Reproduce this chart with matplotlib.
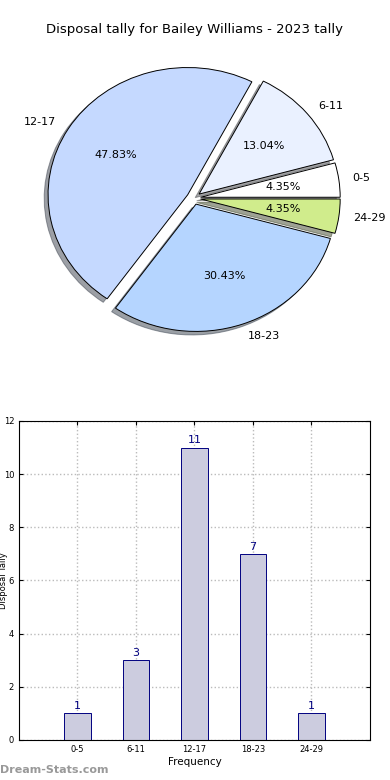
import numpy as np
import matplotlib
matplotlib.use('Agg')
import matplotlib.pyplot as plt

# Data
categories = ['0-5', '6-11', '12-17', '18-23', '24-29']
counts = [1, 3, 11, 7, 1]
pie_colors = ['#ffffff', '#eaf1ff', '#c5d9ff', '#b5d5ff', '#d0ec8c']

fig = plt.figure(figsize=(3.9, 7.8), dpi=100)

# Pie chart
ax1 = fig.add_axes([0.049, 0.542, 0.895, 0.408])
wedges, texts, autotexts = ax1.pie(counts, labels=categories, colors=pie_colors,
                                   explode=[0.05] * len(counts), autopct='%.2f%%',
                                   shadow=True, startangle=0,
                                   wedgeprops={'edgecolor': 'black', 'linewidth': 0.7},
                                   textprops={'fontsize': 8})
ax1.set_aspect('auto')
ax1.set_xlim(-1.25, 1.25)
ax1.set_ylim(-1.25, 1.25)
fig.text(0.5, 0.962, 'Disposal tally for Bailey Williams - 2023 tally',
         ha='center', va='center', fontsize=9.5)

# Bar chart
ax2 = fig.add_axes([0.0487, 0.0513, 0.9, 0.409])
x = np.arange(len(categories))
bars = ax2.bar(x, counts, width=0.45, color='#ccccdf', edgecolor='#000080', linewidth=0.7, zorder=2)
for xi, c in zip(x, counts):
    ax2.text(xi, c + 0.08, str(c), ha='center', va='bottom', color='#000080', fontsize=8)
ax2.set_xlim(-1, 5)
ax2.set_ylim(0, 12)
ax2.set_xticks(x)
ax2.set_xticklabels(categories)
ax2.set_yticks(range(0, 13, 2))
ax2.tick_params(labelsize=6, direction='in', length=3, top=True, right=True)
ax2.grid(True, linestyle=':', color='#bbbbbb', linewidth=1)
ax2.set_xlabel('Frequency', fontsize=7.5, labelpad=2)
fig.text(0.009, 0.256, 'Disposal Tally', rotation=90, ha='center', va='center', fontsize=6)

fig.text(0.0, 0.007, 'Dream-Stats.com', color='#999999', fontsize=8, fontweight='bold',
         ha='left', va='bottom')

fig.savefig('out.png', dpi=100)
